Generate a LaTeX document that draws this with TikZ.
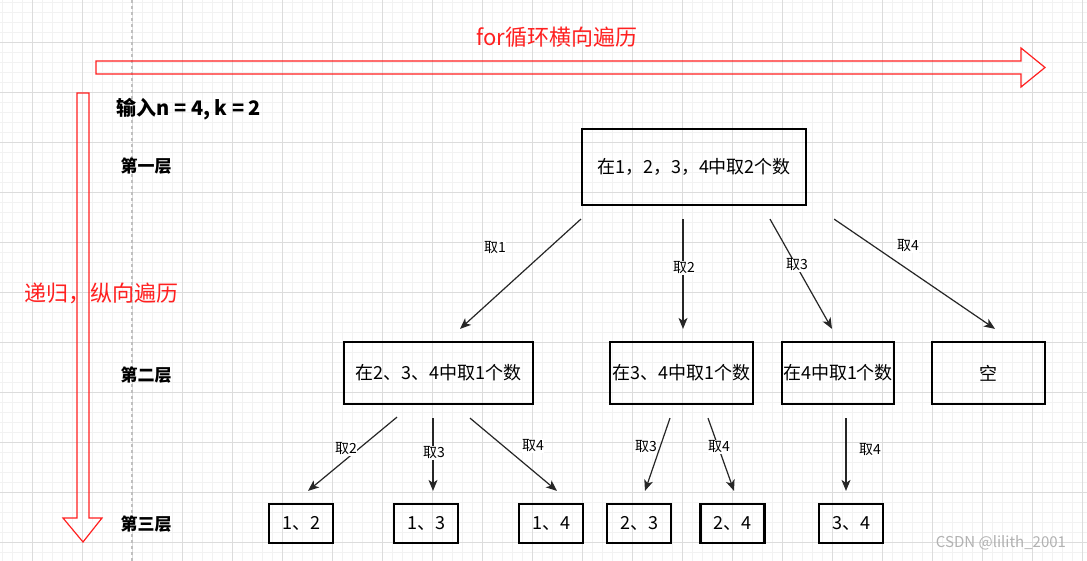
\documentclass[tikz,border=0pt]{standalone}
\usepackage{fontspec}
\setmainfont{Noto Sans CJK SC}
\usetikzlibrary{arrows.meta, calc}
\definecolor{gridminor}{HTML}{F2F2F2}
\definecolor{gridmajor}{HTML}{DCDCDC}
\definecolor{hintred}{HTML}{FF2020}
\tikzstyle{arrow} = [line width=1.2pt, draw=black!85, -{Stealth[length=11pt,width=9pt,inset=3pt]}]

\begin{document}
\begin{tikzpicture}[x=1pt, y=-1pt,
  main/.style = {draw, line width=2.2pt, inner sep=0pt, font=\fontsize{18}{20}\selectfont},
  leaf/.style = {main, minimum width=64pt, minimum height=39pt},
  lbl/.style = {fill=white, inner sep=0.5pt, font=\fontsize{14}{16}\selectfont},
  layer/.style = {font=\fontsize{17}{19}\selectfont\bfseries},
  hint/.style = {text=hintred, font=\fontsize{22}{24}\selectfont},
  block/.style = {draw=hintred, line width=1.2pt}]
\useasboundingbox (0,0) rectangle (1087,561);
% grid
\fill[white] (0,0) rectangle (1087,561);
\foreach \x in {2,12,...,1082} \draw[gridminor] (\x,0) -- (\x,561);
\foreach \y in {2,12,...,552} \draw[gridminor] (0,\y) -- (1087,\y);
\foreach \x in {32,82,...,1082} \draw[gridmajor] (\x,0) -- (\x,561);
\foreach \y in {42,92,...,542} \draw[gridmajor] (0,\y) -- (1087,\y);
\draw[black!25, line width=1.2pt, dash pattern=on 3pt off 3pt] (132,0) -- (132,561);

% big arrows
\draw[block] (96,61) -- (1021,61) -- (1021,48) -- (1045,67.5) -- (1021,87) -- (1021,74) -- (96,74) -- cycle;
\draw[block] (77,93) -- (89,93) -- (89,518) -- (102,518) -- (83,542) -- (63,518) -- (77,518) -- cycle;
\node[hint] (horiz) at (557,37) {for循环横向遍历};
\node[hint] (vert) at (101,293) {递归，纵向遍历};

\node[layer, font=\fontsize{20}{22}\selectfont\bfseries, anchor=west] (input) at (113,109) {输入n = 4, k = 2};
\node[layer] (l1) at (146,166) {第一层};
\node[layer] (l2) at (146,375) {第二层};
\node[layer] (l3) at (146,524) {第三层};

% tree
\node[main, minimum width=224pt, minimum height=76pt] (root) at (694,167) {在1，2，3，4中取2个数};
\node[main, minimum width=189pt, minimum height=62pt] (n2a) at (438.5,373) {在2、3、4中取1个数};
\node[main, minimum width=143pt, minimum height=62pt] (n2b) at (681.5,373) {在3、4中取1个数};
\node[main, minimum width=112pt, minimum height=62pt] (n2c) at (838,373) {在4中取1个数};
\node[main, minimum width=113pt, minimum height=62pt] (n2d) at (988.5,373) {空};
\node[leaf] (n12) at (301,523.5) {1、2};
\node[leaf] (n13) at (426,523.5) {1、3};
\node[leaf] (n14) at (551,523.5) {1、4};
\node[leaf] (n23) at (639,523.5) {2、3};
\node[leaf] (n24) at (732.5,523.5) {2、4};
\node[leaf] (n34) at (851,523.5) {3、4};

\draw[arrow] ($(root.south west)+(0,13)$) -- ($(n2a.north)+(21.5,-12)$) node[lbl] at (495,248) {取1};
\draw[arrow] ($(root.south)+(-11,13)$) -- ($(n2b.north)+(1.5,-12)$) node[lbl] at (684,268) {取2};
\draw[arrow] ($(root.south)+(76,13)$) -- ($(n2c.north)+(-6,-12)$) node[lbl] at (797,265) {取3};
\draw[arrow] ($(root.south east)+(27,13)$) -- ($(n2d.north)+(6.5,-12)$) node[lbl] at (908,246) {取4};

\draw[arrow] ($(n2a.south)+(-41.5,12)$) -- ($(n12.north)+(7,-12)$) node[lbl] at (346,449) {取2};
\draw[arrow] ($(n2a.south)+(-5.5,13)$) -- ($(n13.north)+(7,-12)$) node[lbl] at (434,453) {取3};
\draw[arrow] ($(n2a.south)+(31.5,13)$) -- ($(n14.north)+(6,-12)$) node[lbl] at (533,446) {取4};
\draw[arrow] ($(n2b.south)+(-11.5,13)$) -- ($(n23.north)+(6,-12)$) node[lbl] at (646,447) {取3};
\draw[arrow] ($(n2b.south)+(26.5,13)$) -- ($(n24.north)+(1.5,-12)$) node[lbl] at (719,447) {取4};
\draw[arrow] ($(n2c.south)+(8,13)$) -- ($(n34.north)+(-5,-12)$) node[lbl] at (870,450) {取4};

\node[text=black!30, font=\fontsize{15}{17}\selectfont] (mark) at (1001,543) {CSDN @lilith\_2001};
\end{tikzpicture}
\end{document}
